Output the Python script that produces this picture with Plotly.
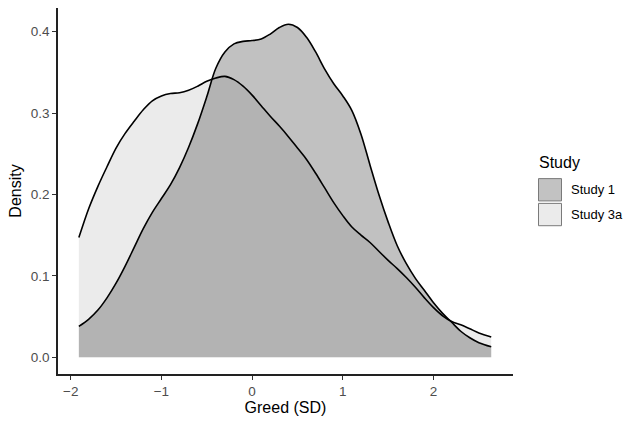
import plotly.graph_objects as go

# Study 1 density
s1_x = [-1.91, -1.8, -1.7, -1.6, -1.5, -1.4, -1.3, -1.2, -1.1, -1.0, -0.9, -0.8, -0.7, -0.6, -0.5,
        -0.4, -0.3, -0.2, -0.1, 0.0, 0.1, 0.2, 0.3, 0.4, 0.5, 0.6, 0.7, 0.8, 0.9, 1.0, 1.1, 1.2,
        1.3, 1.4, 1.5, 1.6, 1.7, 1.8, 1.9, 2.0, 2.1, 2.2, 2.3, 2.4, 2.5, 2.636]
s1_y = [0.038, 0.047, 0.058, 0.073, 0.091, 0.112, 0.135, 0.158, 0.178, 0.195, 0.212, 0.233, 0.258,
        0.287, 0.320, 0.355, 0.375, 0.385, 0.388, 0.389, 0.391, 0.397, 0.405, 0.409, 0.405, 0.393,
        0.375, 0.354, 0.336, 0.321, 0.303, 0.274, 0.236, 0.199, 0.166, 0.137, 0.115, 0.097, 0.082,
        0.067, 0.054, 0.043, 0.032, 0.024, 0.018, 0.013]

# Study 3a density
s3_x = [-1.91, -1.8, -1.7, -1.6, -1.5, -1.4, -1.3, -1.2, -1.1, -1.0, -0.9, -0.8, -0.7, -0.6, -0.5,
        -0.4, -0.3, -0.2, -0.1, 0.0, 0.1, 0.2, 0.3, 0.4, 0.5, 0.6, 0.7, 0.8, 0.9, 1.0, 1.1, 1.2,
        1.3, 1.4, 1.5, 1.6, 1.7, 1.8, 1.9, 2.0, 2.1, 2.2, 2.3, 2.4, 2.5, 2.636]
s3_y = [0.147, 0.183, 0.210, 0.234, 0.257, 0.275, 0.290, 0.304, 0.315, 0.321, 0.324, 0.325, 0.328,
        0.333, 0.339, 0.343, 0.345, 0.341, 0.333, 0.322, 0.309, 0.296, 0.284, 0.271, 0.257, 0.243,
        0.226, 0.208, 0.190, 0.174, 0.160, 0.150, 0.141, 0.130, 0.119, 0.109, 0.098, 0.086, 0.073,
        0.061, 0.051, 0.044, 0.040, 0.035, 0.030, 0.025]

x_ticks = [-2, -1, 0, 1, 2]
x_ticktext = ["\u22122", "\u22121", "0", "1", "2"]
y_ticks = [0.0, 0.1, 0.2, 0.3, 0.4]
y_ticktext = ["0.0", "0.1", "0.2", "0.3", "0.4"]

studies = ["Study 1", "Study 3a"]
fills = {"Study 1": "rgba(51,51,51,0.3)", "Study 3a": "rgba(188,188,188,0.3)"}
key_fills = {"Study 1": "#c2c2c2", "Study 3a": "#ebebeb"}

FONT = "Liberation Sans, Arial, sans-serif"

fig = go.Figure()
# fills: Study 3a first, Study 1 on top
for name, xs, ys in [("Study 3a", s3_x, s3_y), ("Study 1", s1_x, s1_y)]:
    fig.add_trace(go.Scatter(x=xs, y=ys, mode="lines", fill="tozeroy",
                             fillcolor=fills[name], line=dict(width=0, shape="spline", smoothing=1),
                             showlegend=False, hoverinfo="skip"))
for name, xs, ys in [("Study 3a", s3_x, s3_y), ("Study 1", s1_x, s1_y)]:
    fig.add_trace(go.Scatter(x=xs, y=ys, mode="lines", name=name,
                             line=dict(color="black", width=1.6, shape="spline", smoothing=1),
                             showlegend=False))

axis_common = dict(showgrid=False, zeroline=False, showline=True, linecolor="#222222", linewidth=1.5,
                   ticks="outside", ticklen=4, tickwidth=1, tickcolor="#333333",
                   tickfont=dict(family=FONT, size=13.5, color="#4d4d4d"))

fig.update_layout(
    width=633, height=421,
    margin=dict(l=58, r=120, t=8, b=44),
    plot_bgcolor="white", paper_bgcolor="white",
    xaxis=dict(range=[-2.14, 2.876], tickvals=x_ticks, ticktext=x_ticktext,
               title=dict(text="Greed (SD)", font=dict(family=FONT, size=16, color="black"), standoff=3),
               **axis_common),
    yaxis=dict(range=[-0.0205, 0.429], tickvals=y_ticks, ticktext=y_ticktext,
               title=dict(text="Density", font=dict(family=FONT, size=16, color="black"), standoff=5),
               **axis_common),
)

# legend (ggplot-style keys)
fig.add_annotation(xref="paper", yref="paper", x=(537 - 58) / 455, y=(421 - 44 - 164) / 369,
                   text="Study", showarrow=False, xanchor="left", yanchor="middle",
                   font=dict(family=FONT, size=16, color="black"))
key_tops = [180, 205]
for name, top in zip(studies, key_tops):
    y0 = (377 - (top + 22.5)) / 369
    y1 = (377 - top) / 369
    fig.add_shape(type="rect", xref="paper", yref="paper",
                  x0=(538.5 - 58) / 455, x1=(561.5 - 58) / 455, y0=y0, y1=y1,
                  fillcolor=key_fills[name], line=dict(color="#7a7a7a", width=1))
    fig.add_annotation(xref="paper", yref="paper", x=(569 - 58) / 455, y=(y0 + y1) / 2,
                       text=name, showarrow=False, xanchor="left", yanchor="middle",
                       font=dict(family=FONT, size=13, color="black"))

fig.write_html("out.html")
